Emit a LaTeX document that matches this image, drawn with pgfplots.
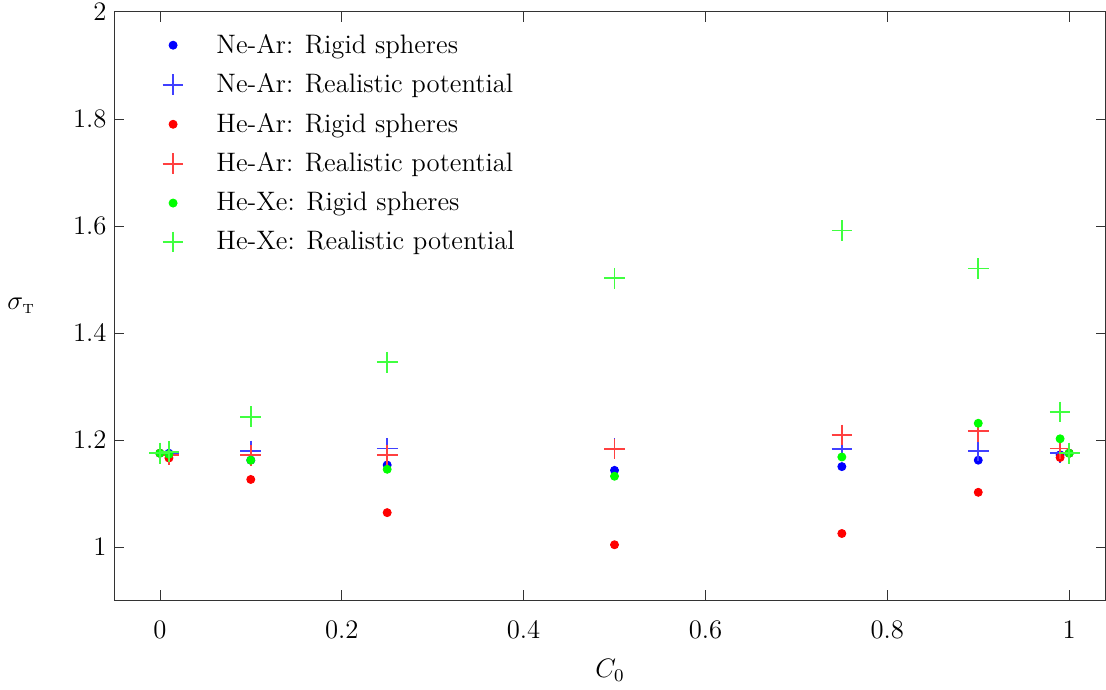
\documentclass[border=0pt]{standalone}
\usepackage{pgfplots}
\pgfplotsset{compat=1.18}

\pgfplotsset{
    legmark/.style={legend image code/.code={
        \path (0cm,0cm) (0.9cm,0cm);
        \draw[mark repeat=2,mark phase=2,##1]
            plot coordinates {(0cm,0cm) (0.3cm,0cm) (0.6cm,0cm)};}},
    rigid/.style={only marks, mark=*, mark size=1.8pt, legmark},
    real/.style={only marks, mark=+, mark size=4.65pt, line width=0.8pt, legmark},
}

\begin{document}
\begin{tikzpicture}
\begin{axis}[
    scale only axis,
    width=445.5pt,
    height=264.6pt,
    xmin=-0.05, xmax=1.04,
    ymin=0.9, ymax=2,
    xtick={0,0.2,0.4,0.6,0.8,1},
    ytick={1,1.2,1.4,1.6,1.8,2},
    tick align=inside,
    major tick length=4.5pt,
    axis line style={black!80},
    tick style={black!80},
    tick label style={font=\large},
    yticklabel style={inner ysep=1.4pt},
    xticklabel style={yshift=-6pt},
    xlabel={$C_0$},
    ylabel={$\sigma_{\scriptscriptstyle\mathrm{T}}$},
    label style={font=\large},
    xlabel style={yshift=-2.5pt},
    ylabel style={rotate=-90, at={(rel axis cs:-0.094,0.50)}, anchor=center},
    legend cell align=left,
    legend style={draw=none, fill=none, font=\large,
        at={(rel axis cs:0.032,0.978)}, anchor=north west, row sep=3.7pt},
]
% Ne-Ar, rigid spheres
\addplot[rigid, color=blue] coordinates {
    (0,1.175) (0.01,1.175) (0.1,1.162) (0.25,1.153) (0.5,1.143)
    (0.75,1.150) (0.9,1.162) (0.99,1.172) (1,1.175)
};
% Ne-Ar, realistic potential
\addplot[real, color=blue!75!white] coordinates {
    (0,1.175) (0.01,1.175) (0.1,1.179) (0.25,1.184) (0.5,1.184)
    (0.75,1.183) (0.9,1.179) (0.99,1.176) (1,1.175)
};
% He-Ar, rigid spheres
\addplot[rigid, color=red] coordinates {
    (0,1.175) (0.01,1.166) (0.1,1.126) (0.25,1.064) (0.5,1.004)
    (0.75,1.025) (0.9,1.102) (0.99,1.167) (1,1.175)
};
% He-Ar, realistic potential
\addplot[real, color=red!75!white] coordinates {
    (0,1.175) (0.01,1.172) (0.1,1.171) (0.25,1.171) (0.5,1.183)
    (0.75,1.209) (0.9,1.216) (0.99,1.184) (1,1.175)
};
% He-Xe, rigid spheres
\addplot[rigid, color=green] coordinates {
    (0,1.175) (0.01,1.173) (0.1,1.162) (0.25,1.145) (0.5,1.132)
    (0.75,1.168) (0.9,1.231) (0.99,1.202) (1,1.175)
};
% He-Xe, realistic potential
\addplot[real, color=green!75!white] coordinates {
    (0,1.175) (0.01,1.178) (0.1,1.243) (0.25,1.345) (0.5,1.502)
    (0.75,1.591) (0.9,1.520) (0.99,1.252) (1,1.175)
};
\legend{Ne-Ar: Rigid spheres, Ne-Ar: Realistic potential,
        He-Ar: Rigid spheres, He-Ar: Realistic potential,
        He-Xe: Rigid spheres, He-Xe: Realistic potential}
\end{axis}
\end{tikzpicture}
\end{document}
